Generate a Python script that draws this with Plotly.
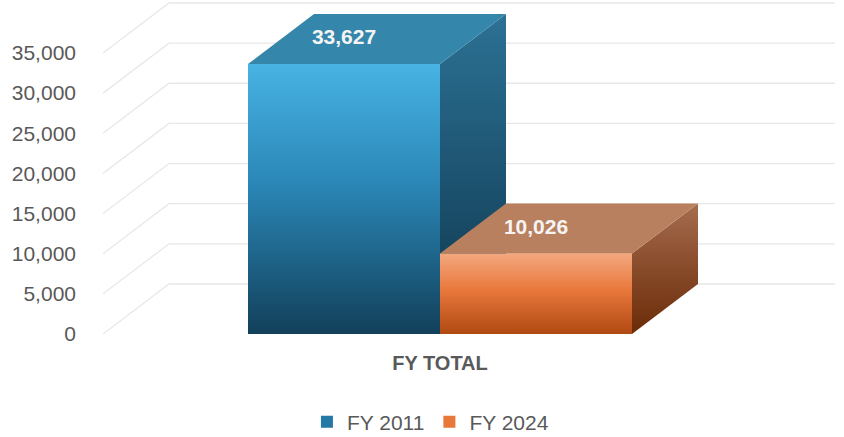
import plotly.graph_objects as go

# ---------------- data ----------------
categories = ["FY TOTAL"]
series_names = ["FY 2011", "FY 2024"]
values = [33627, 10026]
y_ticks = [0, 5000, 10000, 15000, 20000, 25000, 30000, 35000]

# ---------------- style ----------------
front_top = ["#48b3e4", "#f3a87f"]
front_mid = ["#2a86b6", "#e9783c"]
front_bottom = ["#12405a", "#b04912"]
top_col = ["#3586ab", "#b9805f"]
side_top = ["#2c7194", "#a66c4e"]
side_bottom = ["#0e374e", "#6a2b07"]
legend_col = ["#2478a6", "#e8773a"]

BAR_W = 0.5          # width of one bar in category units
PX_PER_X = 384.0     # pixels per category unit (layout constant)
PX_PER_Y = 270.0 / 33627.0
DX = 66 / PX_PER_X   # depth offset (x units)
DY = 50 / PX_PER_Y   # depth offset (value units)

W, H = 844, 437
M_L, M_R, M_T, M_B = 103, 9, 1, 103
plot_w = W - M_L - M_R
plot_h = H - M_T - M_B
CENTER_PX = 440 - M_L
X_RANGE = [-CENTER_PX / PX_PER_X, (plot_w - CENTER_PX) / PX_PER_X]
Y_RANGE = [0, plot_h / PX_PER_Y]

fig = go.Figure()

n = len(series_names)
for i, (name, v) in enumerate(zip(series_names, values)):
    xc = 0 + (i - (n - 1) / 2) * BAR_W
    fig.add_trace(go.Bar(
        x=[xc], y=[v], width=BAR_W, name=name,
        marker=dict(color=legend_col[i], line=dict(width=0)),
        hoverinfo="skip",
    ))

for i, (name, v) in enumerate(zip(series_names, values)):
    xc = 0 + (i - (n - 1) / 2) * BAR_W
    x0, x1 = xc - BAR_W / 2, xc + BAR_W / 2
    # side face
    fig.add_trace(go.Scatter(
        x=[x1, x1 + DX, x1 + DX, x1, x1], y=[0, DY, v + DY, v, 0],
        mode="lines", fill="toself", line=dict(width=0),
        fillcolor=side_bottom[i],
        fillgradient=dict(type="vertical",
                          colorscale=[[0, side_bottom[i]], [1, side_top[i]]]),
        showlegend=False, hoverinfo="skip",
    ))
    # top face
    fig.add_trace(go.Scatter(
        x=[x0, x1, x1 + DX, x0 + DX, x0], y=[v, v, v + DY, v + DY, v],
        mode="lines", fill="toself", line=dict(width=0),
        fillcolor=top_col[i], showlegend=False, hoverinfo="skip",
    ))
    # front face
    fig.add_trace(go.Scatter(
        x=[x0, x1, x1, x0, x0], y=[0, 0, v, v, 0],
        mode="lines", fill="toself", line=dict(width=0),
        fillcolor=front_mid[i],
        fillgradient=dict(type="vertical",
                          colorscale=[[0, front_bottom[i]], [0.55, front_mid[i]],
                                      [1, front_top[i]]]),
        showlegend=False, hoverinfo="skip",
    ))
    # value label on the top face
    fig.add_trace(go.Scatter(
        x=[xc], y=[v + DY / 2], mode="text", text=[f"{v:,}"],
        textposition="middle center",
        textfont=dict(family="Liberation Sans", size=21, color="#f4f4f4",
                      weight="bold"),
        showlegend=False, hoverinfo="skip", cliponaxis=False,
    ))

# perspective gridlines
shapes = []
for t in y_ticks:
    xa = X_RANGE[0]
    shapes.append(dict(
        type="path", xref="x", yref="y", layer="below",
        path=f"M {xa},{t} L {xa + DX},{t + DY} L {X_RANGE[1]},{t + DY}",
        line=dict(color="#e8e8e8", width=1.3),
    ))

fig.update_layout(
    width=W, height=H,
    margin=dict(l=M_L, r=M_R, t=M_T, b=M_B, autoexpand=False),
    paper_bgcolor="white", plot_bgcolor="white",
    shapes=shapes,
    barmode="overlay",
    hovermode=False,
    font=dict(family="Liberation Sans", color="#595959"),
    legend=dict(orientation="h", xref="container", yref="container",
                x=0.510, xanchor="center", y=0.034, yanchor="middle",
                font=dict(size=21, color="#595959"),
                itemwidth=30, traceorder="normal"),
    xaxis=dict(range=X_RANGE, tickvals=[0], ticktext=categories,
               showgrid=False, zeroline=False, showline=False,
               automargin=False,
               tickfont=dict(size=20, color="#595959", weight="bold"),
               ticklabelstandoff=15, fixedrange=True),
    yaxis=dict(range=Y_RANGE, tickvals=y_ticks, tickformat=",",
               showgrid=False, zeroline=False, showline=False,
               automargin=False,
               tickfont=dict(size=21, color="#595959"),
               ticklabelstandoff=26, fixedrange=True),
)

fig.write_html("out.html", config={"displayModeBar": False},
               post_script="document.body.style.margin='0';")
